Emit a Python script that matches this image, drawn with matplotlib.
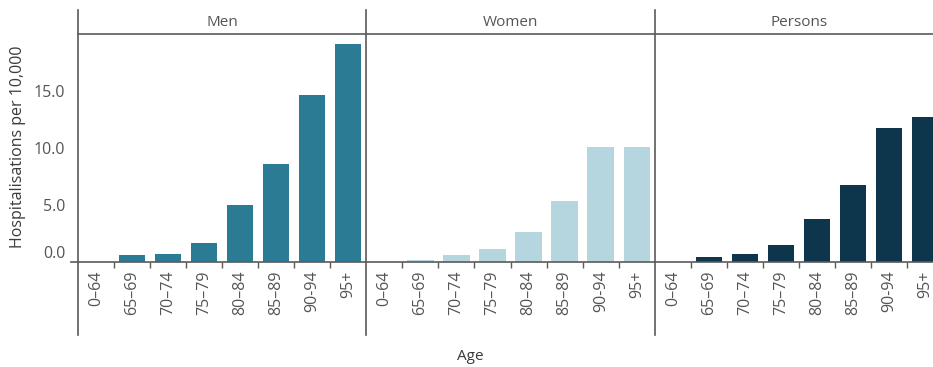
import matplotlib
matplotlib.use("Agg")
import matplotlib.pyplot as plt
from matplotlib.lines import Line2D

plt.rcParams["font.family"] = ["Open Sans", "DejaVu Sans"]

AGE_GROUPS = ["0–64", "65–69", "70–74", "75–79", "80–84", "85–89", "90-94", "95+"]
PANELS = ["Men", "Women", "Persons"]
MEN = [0.0, 0.6, 0.7, 1.7, 5.0, 8.6, 14.6, 19.1]
WOMEN = [0.0, 0.15, 0.6, 1.1, 2.6, 5.3, 10.1, 10.1]
PERSONS = [0.0, 0.4, 0.7, 1.5, 3.8, 6.7, 11.7, 12.7]
Y_TICKS = [0, 5, 10, 15]

COLORS = ["#2b7b94", "#b5d5df", "#0d364c"]
TEXT = "#555555"
LINE = "#5a5a5a"

W, H = 933, 367


def fx(px):
    return px / W


def fy(py):
    return 1 - py / H


fig = plt.figure(figsize=(W / 100, H / 100), dpi=100)

# panel pixel extents (left edge, width)
lefts = [78, 366, 655]
widths = [288, 289, 288]
top_px, base_px = 34, 262

for i, (name, vals) in enumerate(zip(PANELS, [MEN, WOMEN, PERSONS])):
    ax = fig.add_axes([fx(lefts[i]), fy(base_px), widths[i] / W, (base_px - top_px) / H])
    x = list(range(len(AGE_GROUPS)))
    ax.bar(x, vals, width=0.74, color=COLORS[i], zorder=2)
    ax.set_xlim(-0.5, len(AGE_GROUPS) - 0.5)
    ax.set_ylim(0, 19.95)
    for s in ["top", "right", "left"]:
        ax.spines[s].set_visible(False)
    ax.spines["bottom"].set_color(LINE)
    ax.spines["bottom"].set_linewidth(1.2)

    ax.set_xticks(x)
    ax.set_xticklabels(AGE_GROUPS, rotation=90, fontsize=11.5, color=TEXT)
    ax.set_xticks([v + 0.5 for v in x[:-1]], minor=True)
    ax.tick_params(axis="x", which="major", length=0, pad=6)
    ax.tick_params(axis="x", which="minor", length=4, width=1, color=LINE)

    if i == 0:
        ax.set_yticks(Y_TICKS)
        ax.set_yticklabels([f"{v:.1f}" for v in Y_TICKS], fontsize=11.5, color=TEXT)
        ax.tick_params(axis="y", length=0, pad=9)
        ax.get_yticklabels()[0].set_va("bottom")
    else:
        ax.set_yticks([])

    cx = lefts[i] + widths[i] / 2
    fig.text(fx(cx), fy(22), name, ha="center", va="center", fontsize=11, color=TEXT)
    fig.add_artist(Line2D([fx(lefts[i]), fx(lefts[i])], [fy(10), fy(335)],
                          color=LINE, linewidth=1.2))

# header rule and extension of baseline to the left
fig.add_artist(Line2D([fx(78), 1], [fy(top_px), fy(top_px)], color=LINE, linewidth=1.2))
fig.add_artist(Line2D([fx(71), fx(78)], [fy(base_px), fy(base_px)], color=LINE, linewidth=1.2))

fig.text(fx(18), fy(147), "Hospitalisations per 10,000", rotation=90,
         ha="center", va="center", fontsize=11.5, color="#3a3a3a")
fig.text(fx(470), fy(357), "Age", ha="center", va="center", fontsize=11, color="#3a3a3a")

fig.savefig("out.png", dpi=100)
